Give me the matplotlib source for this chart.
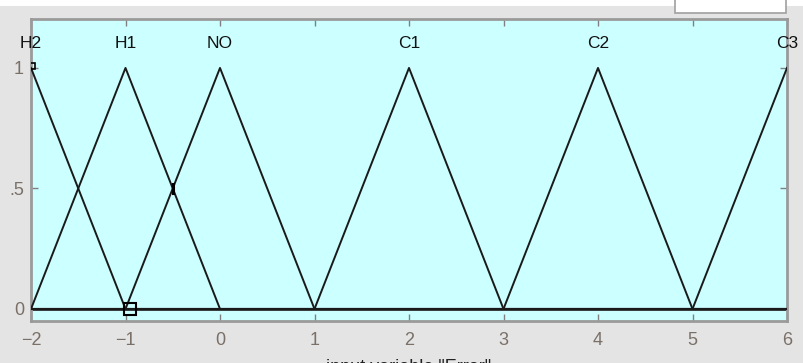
import matplotlib.pyplot as plt
import numpy as np
from matplotlib.patches import Rectangle

plt.rcParams['font.family'] = ['Liberation Sans', 'DejaVu Sans']

# membership functions of the input variable (triangles a, b, c)
mf_names = ['H2', 'H1', 'NO', 'C1', 'C2', 'C3']
mf_params = [[-3, -2, -1],
             [-2, -1, 0],
             [-1, 0, 1],
             [1, 2, 3],
             [3, 4, 5],
             [5, 6, 7]]
x_range = [-2, 6]
x_ticks = [-2, -1, 0, 1, 2, 3, 4, 5, 6]
y_ticks = [0, 0.5, 1]
y_ticklabels = ['0', '.5', '1']
var_label = 'input variable "Error"'

# current selection shown on the plot
sel_point = [-0.95, 0.0]
cursor_x = -0.5

bg_fig = '#e4e4e4'
bg_ax = '#ccffff'
lab_col = '#7a7068'

fig = plt.figure(figsize=(8.04, 3.63), dpi=100, facecolor=bg_fig)
ax = fig.add_axes([31/804, 1-321/363, 756/804, 302/363], facecolor=bg_ax)

xx = np.linspace(x_range[0], x_range[1], 1601)
for name, (a, b, c) in zip(mf_names, mf_params):
    yy = np.maximum(np.minimum((xx - a)/(b - a), (c - xx)/(c - b)), 0)
    ax.plot(xx, yy, color='#1a1a1a', lw=1.4, zorder=3)
    ax.text(b, 1.10, name, ha='center', va='center', fontsize=12.5,
            color='#111111', clip_on=False, zorder=5)

ax.axhline(0, color='#2a2a2a', lw=2.0, zorder=2)
ax.plot([sel_point[0]], [sel_point[1]], marker='s', ms=8, mfc='none',
        mec='black', mew=1.5, zorder=6, clip_on=False)
ax.plot([cursor_x, cursor_x], [0.48, 0.52], color='black', lw=2.2, zorder=4)
ax.plot([-1.985], [1.01], marker='s', ms=4, mfc='none', mec='black',
        mew=1.2, zorder=6)

ax.set_xlim(x_range)
ax.set_ylim(-0.05, 1.203)
ax.set_xticks(x_ticks)
ax.set_yticks(y_ticks)
ax.set_yticklabels(y_ticklabels)
ax.tick_params(direction='in', length=5, width=1, color='#808080',
               labelcolor=lab_col, labelsize=13,
               top=True, right=True)
ax.tick_params(axis='x', pad=8)
ax.tick_params(axis='y', pad=5)
for s in ax.spines.values():
    s.set_color('#9a9a9a')
    s.set_linewidth(2)

ax.set_xlabel(var_label, fontsize=13, color='#222222', labelpad=7)

# white strip and box at the top of the window
fig.patches.append(Rectangle((0, 1-6/363), 1, 6/363, transform=fig.transFigure,
                             facecolor='white', edgecolor='none', zorder=0))
fig.patches.append(Rectangle((675/804, 1-13/363), 111/804, 15/363,
                             transform=fig.transFigure, facecolor='white',
                             edgecolor='#a0a0a0', lw=1.2, zorder=1))

fig.savefig('out.png', dpi=100, facecolor=bg_fig)
